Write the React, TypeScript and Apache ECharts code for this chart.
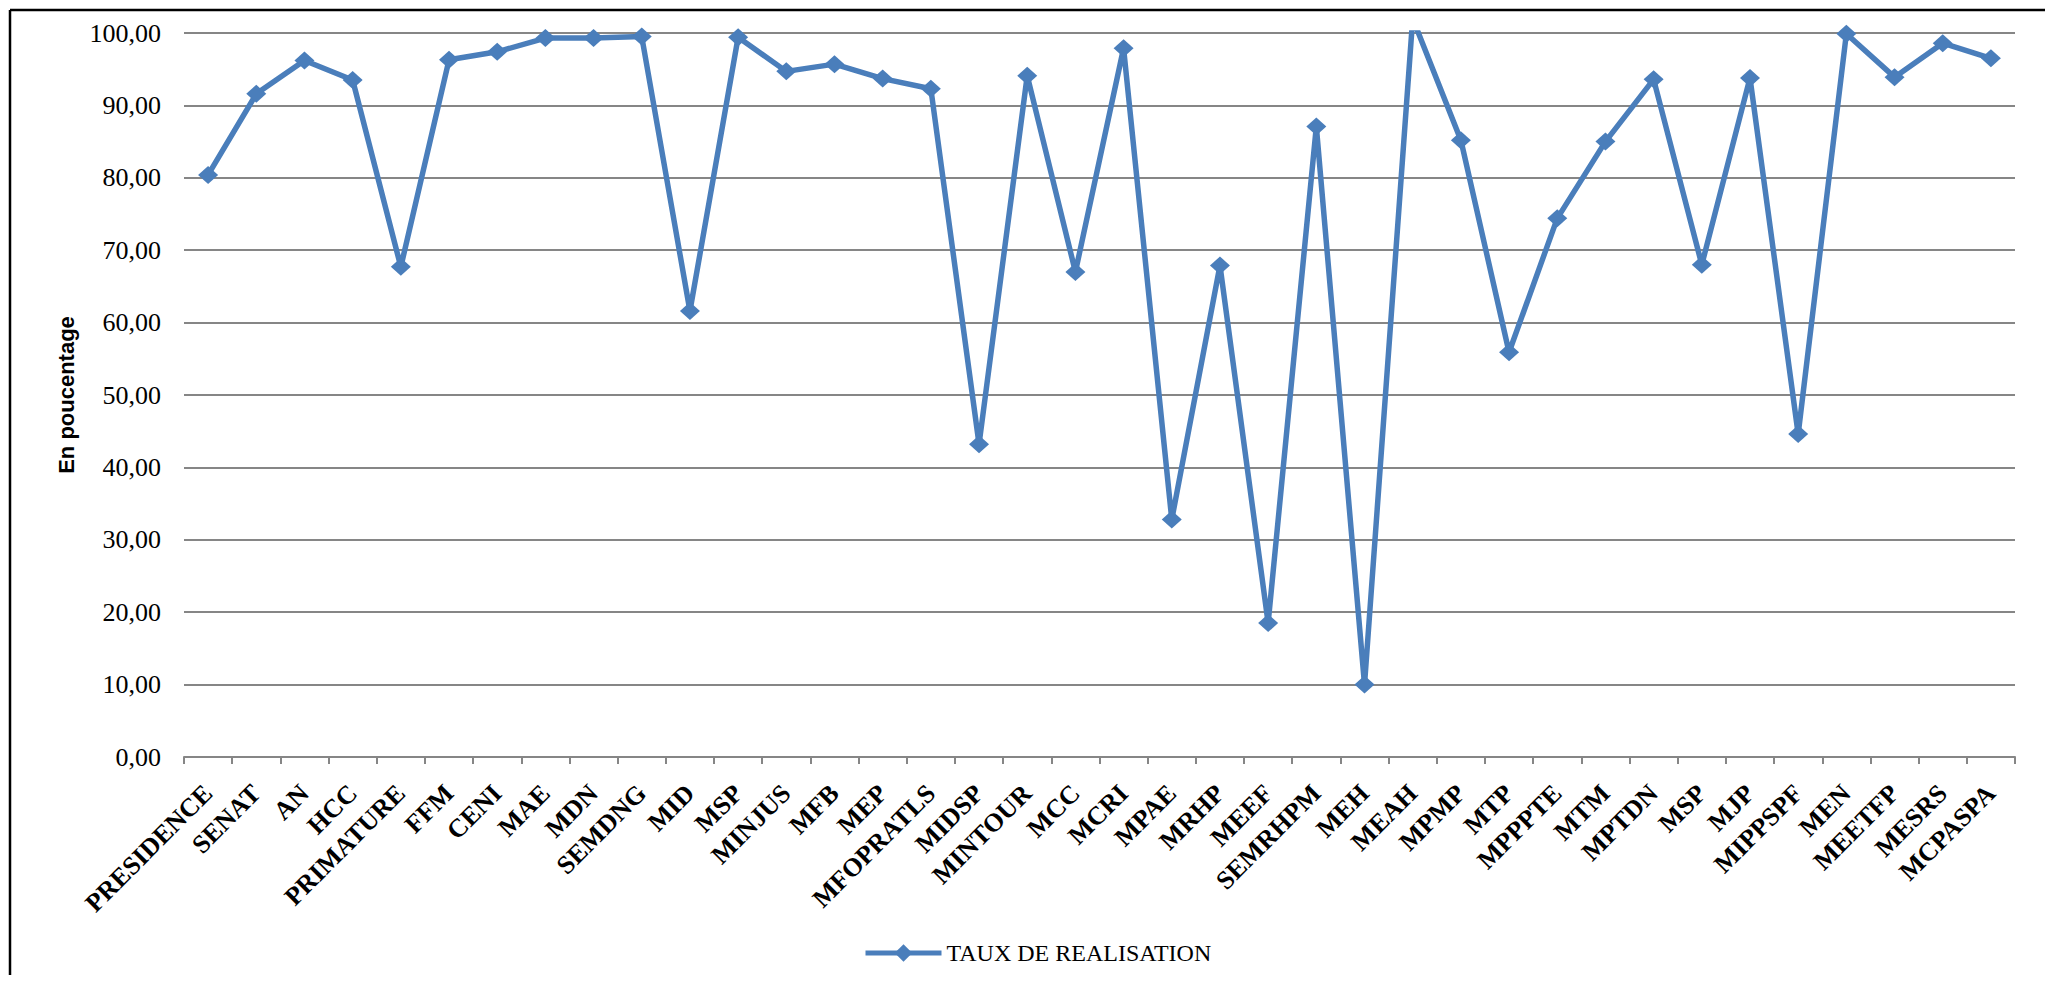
import React, { useEffect, useRef } from "react";
import * as echarts from "echarts";

const categories: string[] = [
  "PRESIDENCE", "SENAT", "AN", "HCC", "PRIMATURE", "FFM", "CENI", "MAE", "MDN", "SEMDNG",
  "MID", "MSP", "MINJUS", "MFB", "MEP", "MFOPRATLS", "MIDSP", "MINTOUR", "MCC", "MCRI",
  "MPAE", "MRHP", "MEEF", "SEMRHPM", "MEH", "MEAH", "MPMP", "MTP", "MPPPTE", "MTM",
  "MPTDN", "MSP", "MJP", "MIPPSPF", "MEN", "MEETFP", "MESRS", "MCPASPA",
];

const tauxRealisation: number[] = [
  80.4, 91.6, 96.2, 93.5, 67.7, 96.3, 97.4, 99.3, 99.3, 99.5,
  61.6, 99.4, 94.7, 95.7, 93.7, 92.3, 43.2, 94.1, 67.0, 97.9,
  32.8, 67.9, 18.5, 87.1, 10.0, 102.0, 85.2, 55.9, 74.4, 85.0,
  93.6, 68.0, 93.8, 44.6, 99.9, 93.9, 98.6, 96.5,
];

const seriesName = "TAUX DE REALISATION";
const yAxisTitle = "En poucentage";

export default function App() {
  const ref = useRef<HTMLDivElement>(null);

  useEffect(() => {
    if (!ref.current) return;
    const chart = echarts.init(ref.current, null, { renderer: "svg" });
    const blue = "#4A7EBB";
    chart.setOption({
      animation: false,
      backgroundColor: "#ffffff",
      grid: {
        left: 176,
        right: 30,
        top: 25,
        bottom: 218,
        containLabel: false,
        outerBoundsMode: "none",
      },
      legend: {
        data: [seriesName],
        left: 850,
        top: 928,
        itemWidth: 76,
        itemHeight: 22,
        lineStyle: { width: 5 },
        textStyle: {
          fontFamily: "Liberation Serif",
          fontSize: 24,
          color: "#000",
        },
      },
      xAxis: {
        type: "category",
        data: categories,
        boundaryGap: true,
        axisLine: { show: true, lineStyle: { color: "#868686", width: 2 } },
        axisTick: { show: true, length: 7, lineStyle: { color: "#868686", width: 2 } },
        axisLabel: {
          interval: 0,
          rotate: 45,
          margin: 32,
          fontFamily: "Liberation Serif",
          fontWeight: "bold",
          fontSize: 26,
          color: "#000",
        },
        splitLine: { show: false },
      },
      yAxis: {
        type: "value",
        min: 0,
        max: 100,
        interval: 10,
        name: yAxisTitle,
        nameLocation: "middle",
        nameRotate: 90,
        nameGap: 107,
        nameTextStyle: {
          fontFamily: "Liberation Sans",
          fontWeight: "bold",
          fontSize: 22,
          color: "#000",
        },
        axisLine: { show: false },
        axisTick: { show: false },
        axisLabel: {
          margin: 23,
          fontFamily: "Liberation Serif",
          fontSize: 26,
          color: "#000",
          formatter: (v: number) => v.toFixed(2).replace(".", ","),
        },
        splitLine: { show: true, lineStyle: { color: "#868686", width: 2 } },
      },
      series: [
        {
          name: seriesName,
          type: "line",
          data: tauxRealisation,
          clip: true,
          symbol: "diamond",
          symbolSize: [20, 18],
          showAllSymbol: true,
          lineStyle: { color: blue, width: 5.5 },
          itemStyle: { color: blue },
        },
      ],
      graphic: [
        {
          type: "line",
          shape: { x1: 2, y1: 2, x2: 2037, y2: 2 },
          style: { stroke: "#000", lineWidth: 2.5 },
          silent: true,
        },
        {
          type: "line",
          shape: { x1: 2, y1: 2, x2: 2, y2: 967 },
          style: { stroke: "#000", lineWidth: 2.5 },
          silent: true,
        },
      ],
    });
    return () => chart.dispose();
  }, []);

  return <div ref={ref} style={{ width: 2037, height: 967 }} />;
}
